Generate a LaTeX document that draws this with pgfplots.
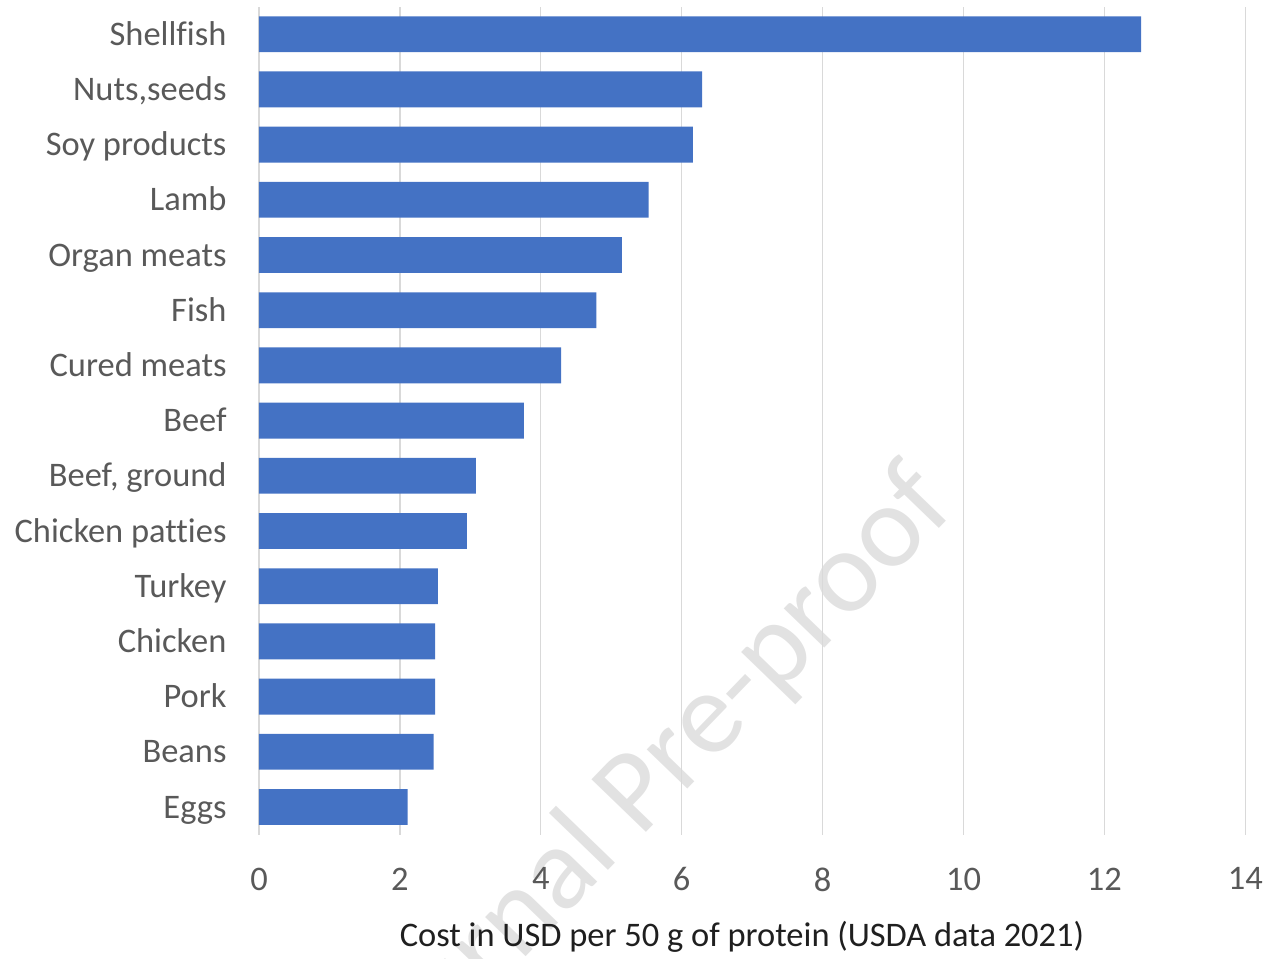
\documentclass[border=0pt]{standalone}
\usepackage{fontspec}
\setmainfont{Carlito}[Ligatures={NoCommon,NoRare}]
\usepackage{pgfplots}
\pgfplotsset{compat=1.18}
\definecolor{barblue}{HTML}{4472C4}
\definecolor{labelgray}{HTML}{595959}
\definecolor{gridgray}{HTML}{D9D9D9}
\definecolor{markgray}{HTML}{E2E2E2}
\newcommand{\chartfont}{\fontsize{12.4}{14.5}\selectfont}
\begin{document}
\begin{tikzpicture}
% watermark behind the chart
\node[anchor=base, rotate=46, text=markgray, inner sep=0pt,
      font=\fontsize{42.5}{50}\selectfont] at (147.5pt,9.3pt) {Journal Pre-proof};
\begin{axis}[
  at={(0,0)}, anchor=south west,
  scale only axis, width=355.07pt, height=298.08pt,
  xbar, bar width=0.65,
  xmin=0, xmax=14, ymin=-0.5, ymax=14.5,
  xtick={0,2,...,14}, ytick={0,...,14},
  yticklabels={Eggs,Beans,Pork,Chicken,Turkey,Chicken patties,{Beef, ground},Beef,Cured meats,Fish,Organ meats,Lamb,Soy products,{Nuts,seeds},Shellfish},
  axis line style={draw=none}, major tick length=0pt,
  xmajorgrids, grid style={gridgray, line width=0.5pt},
  tick label style={font=\chartfont, text=labelgray},
  yticklabel style={anchor=base east, inner sep=0pt, xshift=-11.5pt, yshift=-4pt},
  xticklabel style={anchor=north, inner sep=0pt, yshift=-11.7pt},
  /pgf/number format/assume math mode=true,
  xlabel={Cost in USD per 50 g of protein (USDA data 2021)},
  xlabel style={at={(axis description cs:0.4897,0)}, anchor=base, inner sep=0pt,
                yshift=-40.4pt, font=\chartfont, text=black!88},
  clip=false,
]
\addplot[fill=barblue, draw=none] coordinates {
  (2.11,0) (2.48,1) (2.50,2) (2.50,3) (2.54,4) (2.95,5) (3.08,6) (3.76,7)
  (4.29,8) (4.79,9) (5.15,10) (5.53,11) (6.16,12) (6.29,13) (12.52,14)
};
\end{axis}
\pgfresetboundingbox
\path[use as bounding box] (-93.24pt,-44.78pt) rectangle (365.76pt,300.46pt);
\end{tikzpicture}
\end{document}
